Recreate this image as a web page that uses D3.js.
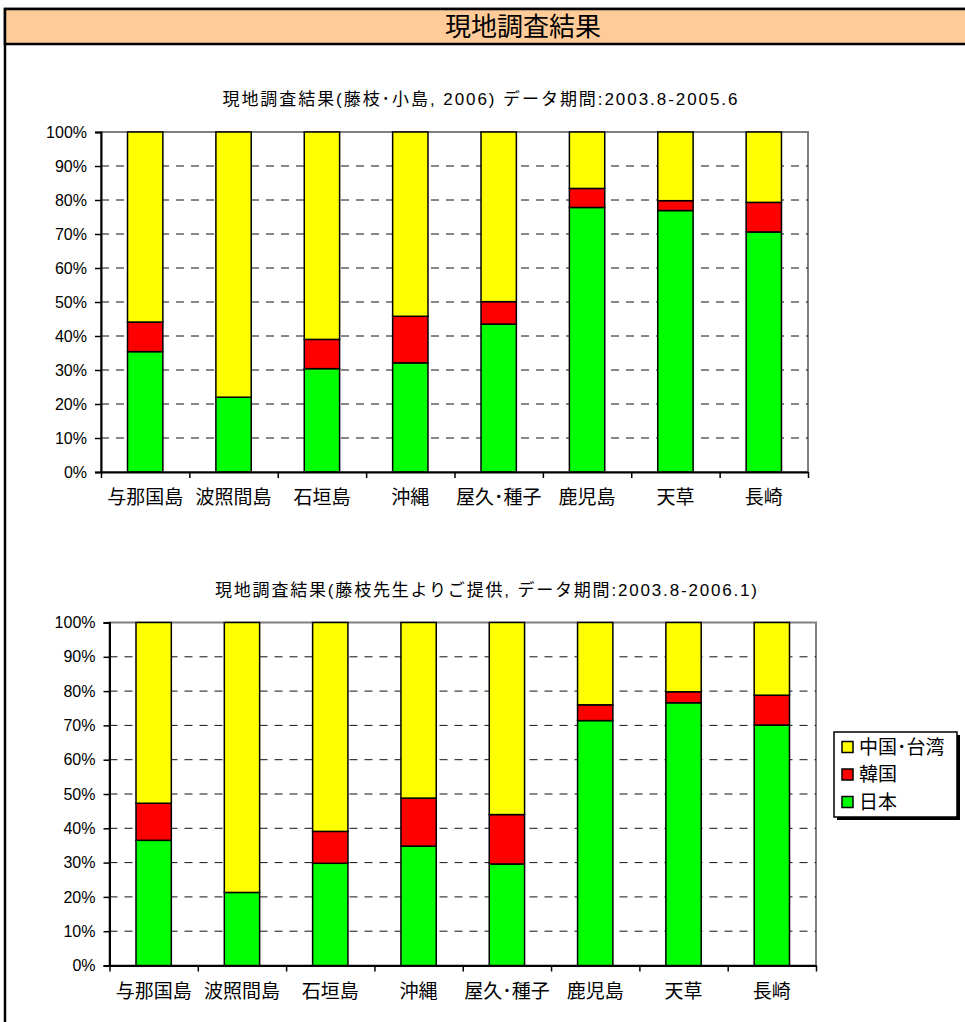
<!DOCTYPE html>
<html><head><meta charset="utf-8">
<script src="https://cdn.jsdelivr.net/npm/d3@7"></script>
<style>
html,body{margin:0;padding:0;background:#fff;}
svg{display:block;}
text{font-family:"Liberation Sans","Noto Sans CJK JP",Arial,sans-serif;fill:#000;}
</style></head>
<body>
<svg id="c" width="965" height="1022"></svg>
<script>
// ---- data ----
const headerTitle = "現地調査結果";
const categories = ["与那国島","波照間島","石垣島","沖縄","屋久･種子","鹿児島","天草","長崎"];
const seriesNames = ["日本","韓国","中国･台湾"]; // bottom to top
const seriesColors = ["#00FF00","#FF0000","#FFFF00"];
const legendOrder = ["中国･台湾","韓国","日本"];

const title1 = "現地調査結果(藤枝･小島, 2006)  データ期間:2003.8-2005.6";
const japan1 = [35.4, 22.0, 30.4, 32.1, 43.5, 77.8, 76.9, 70.6];
const korea1 = [8.7, 0.0, 8.6, 13.7, 6.6, 5.6, 2.9, 8.7];
const china1 = [55.9, 78.0, 61.0, 54.2, 49.9, 16.6, 20.2, 20.7];

const title2 = "現地調査結果(藤枝先生よりご提供, データ期間:2003.8-2006.1)";
const japan2 = [36.5, 21.3, 29.8, 34.8, 29.6, 71.4, 76.6, 70.1];
const korea2 = [10.8, 0.0, 9.3, 14.0, 14.4, 4.6, 3.2, 8.7];
const china2 = [52.7, 78.7, 60.9, 51.2, 56.0, 24.0, 20.2, 21.2];

const yTicks = [0,0.1,0.2,0.3,0.4,0.5,0.6,0.7,0.8,0.9,1.0];

// ---- drawing ----
const svg = d3.select("#c");

// outer frame + header
svg.append("rect").attr("x",5).attr("y",9).attr("width",1000).attr("height",1100)
  .attr("fill","#fff").attr("stroke","#000").attr("stroke-width",2.5);
svg.append("rect").attr("x",5).attr("y",9).attr("width",1000).attr("height",35)
  .attr("fill","#FFCC99").attr("stroke","#000").attr("stroke-width",2.5);
svg.append("text").attr("x",523).attr("y",36).attr("text-anchor","middle")
  .style("font-size","26px").style("font-family","'Noto Sans CJK JP',sans-serif")
  .text(headerTitle);

function drawChart(cfg){
  const {x0,x1,yTop,yBot,title,titleX,titleY,titleLen,labelY,jp,kr,cn} = cfg;
  const g = svg.append("g");
  const rows = categories.map((c,i)=>({cat:c,"日本":jp[i],"韓国":kr[i],"中国･台湾":cn[i]}));
  const stack = d3.stack().keys(seriesNames).offset(d3.stackOffsetExpand);
  const layers = stack(rows);

  const x = d3.scaleBand().domain(categories).range([x0,x1]).paddingInner(0.6).paddingOuter(0.3);
  const xb = d3.scaleLinear().domain([0,categories.length]).range([x0,x1]);
  const y = d3.scaleLinear().domain([0,1]).range([yBot,yTop]);

  // title
  g.append("text").attr("x",titleX).attr("y",titleY).attr("text-anchor","middle")
    .attr("textLength",titleLen).attr("lengthAdjust","spacing")
    .style("font-size","17px").text(title);

  // plot area border (gray)
  g.append("rect").attr("x",x0).attr("y",yTop).attr("width",x1-x0).attr("height",yBot-yTop)
    .attr("fill","#fff").attr("stroke","#808080").attr("stroke-width",2);

  // gridlines
  g.append("g").selectAll("line").data(yTicks.filter(v=>v>0 && v<1)).join("line")
    .attr("x1",x0).attr("x2",x1).attr("y1",d=>y(d)).attr("y2",d=>y(d))
    .attr("stroke","#111").attr("stroke-width",1).attr("stroke-dasharray","8,7");

  // bars
  layers.forEach((layer,li)=>{
    g.append("g").selectAll("rect").data(layer).join("rect")
      .attr("x",d=>x(d.data.cat)).attr("width",x.bandwidth())
      .attr("y",d=>y(d[1])).attr("height",d=>Math.max(0,y(d[0])-y(d[1])))
      .attr("fill",seriesColors[li]).attr("stroke","#000").attr("stroke-width",1.5);
  });

  // y axis
  const ya = g.append("g").attr("transform",`translate(${x0},0)`)
    .call(d3.axisLeft(y).tickValues(yTicks).tickFormat(d3.format(".0%")).tickSize(6).tickPadding(8));
  ya.select(".domain").attr("stroke","#000").attr("stroke-width",2);
  ya.selectAll(".tick line").attr("stroke","#000").attr("stroke-width",1.5);
  ya.selectAll(".tick text").style("font-size","16px").style("font-family","'Liberation Sans',Arial,sans-serif");

  // x axis (ticks at category boundaries)
  const xa = g.append("g").attr("transform",`translate(0,${yBot})`)
    .call(d3.axisBottom(xb).tickValues(d3.range(categories.length+1)).tickFormat("").tickSize(6).tickSizeOuter(0));
  xa.select(".domain").attr("stroke","#000").attr("stroke-width",2);
  xa.selectAll(".tick line").attr("stroke","#000").attr("stroke-width",1.5);

  // x labels
  g.append("g").selectAll("text").data(categories).join("text")
    .attr("x",d=>x(d)+x.bandwidth()/2).attr("y",labelY).attr("text-anchor","middle")
    .style("font-size","19px").style("font-family","'Noto Sans CJK JP',sans-serif")
    .text(d=>d);
  return g;
}

drawChart({x0:101,x1:808,yTop:132,yBot:472,title:title1,titleX:480,titleY:105,titleLen:515,labelY:504,
  jp:japan1,kr:korea1,cn:china1});
drawChart({x0:109.5,x1:816,yTop:622.5,yBot:965.5,title:title2,titleX:486,titleY:596,titleLen:542,labelY:998,
  jp:japan2,kr:korea2,cn:china2});

// legend
const lg = svg.append("g");
lg.append("rect").attr("x",837).attr("y",735).attr("width",123).attr("height",85).attr("fill","#000");
lg.append("rect").attr("x",834).attr("y",732).attr("width",123).attr("height",85)
  .attr("fill","#fff").attr("stroke","#000").attr("stroke-width",1.5);
const lgY = d3.scalePoint().domain(legendOrder).range([746.5,801.5]);
const colorOf = d3.scaleOrdinal().domain(seriesNames).range(seriesColors);
lg.selectAll("rect.sw").data(legendOrder).join("rect").attr("class","sw")
  .attr("x",842).attr("y",d=>lgY(d)-5).attr("width",11).attr("height",11)
  .attr("fill",d=>colorOf(d)).attr("stroke","#000").attr("stroke-width",1.5);
lg.selectAll("text").data(legendOrder).join("text")
  .attr("x",859).attr("y",d=>lgY(d)+7).style("font-size","19px")
  .style("font-family","'Noto Sans CJK JP',sans-serif").text(d=>d);
</script>
</body></html>
